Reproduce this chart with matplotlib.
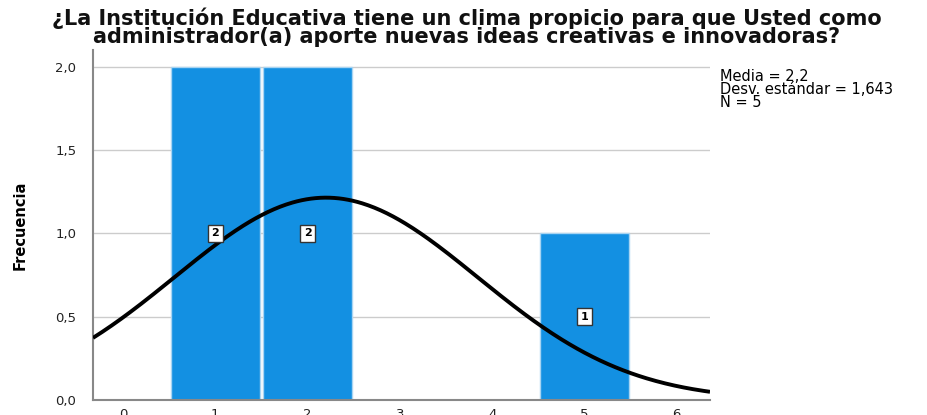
import numpy as np
import matplotlib
matplotlib.use("Agg")
import matplotlib.pyplot as plt
from matplotlib.ticker import FuncFormatter

categories = [1, 2, 5]
counts = [2, 2, 1]
raw_values = [1, 1, 2, 2, 5]
mean_val = 2.2
sd_val = 1.643
n_val = 5
xticks = [0, 1, 2, 3, 4, 5, 6]
yticks = [0.0, 0.5, 1.0, 1.5, 2.0]
title = "¿La Institución Educativa tiene un clima propicio para que Usted como\nadministrador(a) aporte nuevas ideas creativas e innovadoras?"

plt.rcParams['font.family'] = ['DejaVu Sans']

fig = plt.figure(figsize=(9.27, 4.15), dpi=100)
ax = fig.add_axes([93/927, 15/415, (710-93)/927, (400-50)/415])

ax.set_xlim(-0.325, 6.36)
ax.set_ylim(0, 2.1)

ax.bar(categories, counts, width=0.96, color='#1390e2', edgecolor='#a8d4f2', linewidth=1.0, zorder=2)

xs = np.linspace(-0.325, 6.36, 400)
pdf = n_val * 1.0 / (sd_val * np.sqrt(2*np.pi)) * np.exp(-0.5*((xs-mean_val)/sd_val)**2)
ax.plot(xs, pdf, color='black', lw=2.8, zorder=4, solid_capstyle='butt')

for c, v in zip(categories, counts):
    ax.text(c, v/2, str(v), ha='center', va='center', fontsize=8, fontweight='bold', zorder=5,
            bbox=dict(boxstyle='square,pad=0.3', fc='white', ec='#333333', lw=1.0))

ax.set_yticks(yticks)
ax.set_xticks(xticks)
ax.yaxis.set_major_formatter(FuncFormatter(lambda v, p: f"{v:.1f}".replace('.', ',')))
ax.grid(axis='y', color='#cccccc', lw=1.0, zorder=0)
ax.set_axisbelow(True)
ax.tick_params(length=0, labelsize=9.5, colors='#222222', pad=12)
ax.tick_params(axis='x', pad=6)
for s in ['top', 'right']:
    ax.spines[s].set_visible(False)
for s in ['left', 'bottom']:
    ax.spines[s].set_color('#888888')
    ax.spines[s].set_linewidth(1.5)

ax.set_ylabel('Frecuencia', fontsize=10.5, fontweight='bold', labelpad=20, color='black')

fig.text(467/927, 1 - 27/415, title, ha='center', va='center', fontsize=15, fontweight='bold',
         linespacing=0.85, color='#111111')

fig.text(720/927, 1 - 69/415, f"Media = 2,2\nDesv. estándar = 1,643\nN = {n_val}", ha='left', va='top',
         fontsize=10.5, linespacing=0.82)

fig.savefig('out.png', dpi=100)
